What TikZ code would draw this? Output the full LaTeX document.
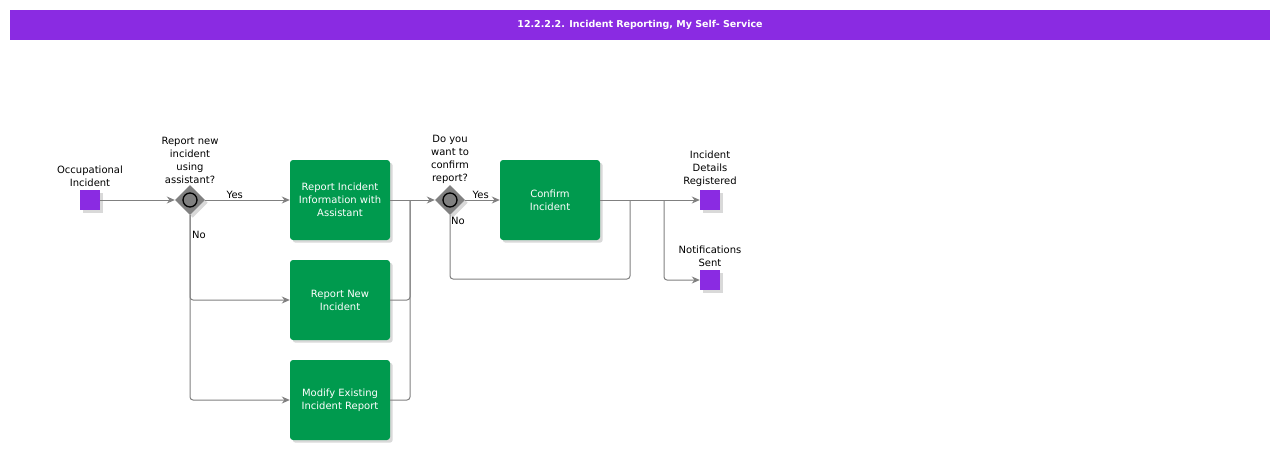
\documentclass[tikz,border=0pt]{standalone}
\usepackage{fontspec}
\setmainfont{DejaVu Sans}
\usepackage{tikz}
\usetikzlibrary{positioning,arrows.meta,shapes.geometric,shadows}
\definecolor{bpurple}{HTML}{8A2BE2}
\definecolor{bgreen}{HTML}{009A4E}
\definecolor{bline}{HTML}{808080}
\tikzset{
  task/.style={draw=none,fill=bgreen,rounded corners=3pt,minimum width=100pt,minimum height=80pt,
    text=white,align=center,font=\fontsize{10}{13}\selectfont,drop shadow={opacity=0.3}},
  event/.style={draw=none,fill=bpurple,minimum size=20pt,inner sep=0pt,drop shadow={opacity=0.3}},
  gate/.style={diamond,fill=gray,minimum size=30pt,inner sep=0pt,drop shadow={opacity=0.3}},
  lbl/.style={align=center,font=\fontsize{10}{13}\selectfont,inner sep=1pt},
  flow/.style={draw=bline,line width=1pt,-{Stealth[length=8pt,width=7pt]},rounded corners=3pt},
  line/.style={draw=bline,line width=1pt,rounded corners=3pt}
}
\begin{document}
\begin{tikzpicture}[x=1pt,y=-1pt]
    \useasboundingbox (0,0) rectangle (1280,450);
    \node[fill=bpurple,minimum width=1260pt,minimum height=30pt,text=white,
      font=\bfseries\fontsize{9.5}{12}\selectfont] (title) at (640,25) {12.2.2.2. Incident Reporting, My Self- Service};
    \node[event] (start) at (90,200) {};
    \node[lbl,above=2pt of start] {Occupational\\Incident};
    \node[gate] (G1) at (190,200) {};
    \draw[line width=1.3pt] (G1) circle (7pt);
    \node[lbl,above=0pt of G1] {Report new\\incident\\using\\assistant?};
    \node[task] (T1) at (340,200) {Report Incident\\Information with\\Assistant};
    \node[task] (T2) at (340,300) {Report New\\Incident};
    \node[task] (T3) at (340,400) {Modify Existing\\Incident Report};
    \node[gate] (G2) at (450,200) {};
    \draw[line width=1.3pt] (G2) circle (7pt);
    \node[lbl,above=0pt of G2] {Do you\\want to\\confirm\\report?};
    \node[task] (T4) at (550,200) {Confirm\\Incident};
    \node[event] (E1) at (710,200) {};
    \node[lbl,above=2pt of E1] {Incident\\Details\\Registered};
    \node[event] (E2) at (710,280) {};
    \node[lbl,above=2pt of E2] {Notifications\\Sent};
    \coordinate (M) at (410,200);
    \coordinate (S) at (664,200);
    \coordinate (J) at (630,200);
    \draw[flow] (start) -- (G1);
    \draw[flow] (G1) -- node[lbl,above,pos=0.35] {Yes} (T1);
    \draw[flow] (G1.south) |- (T2.west);
    \draw[flow] (G1.south) |- (T3.west);
    \node[lbl,anchor=north west] at (191,230) {No};
    \draw[line] (T1) -- (M);
    \draw[line] (T2.east) -| (M);
    \draw[line] (T3.east) -| (M);
    \draw[flow] (M) -- (G2);
    \draw[flow] (G2) -- node[lbl,above,pos=0.45] {Yes} (T4);
    \draw[line] (G2.south) |- (630,279) -- (J);
    \node[lbl,anchor=north west] at (450,216) {No};
    \draw[flow] (T4) -- (E1);
    \draw[flow] (S) |- (E2);
\end{tikzpicture}
\end{document}
